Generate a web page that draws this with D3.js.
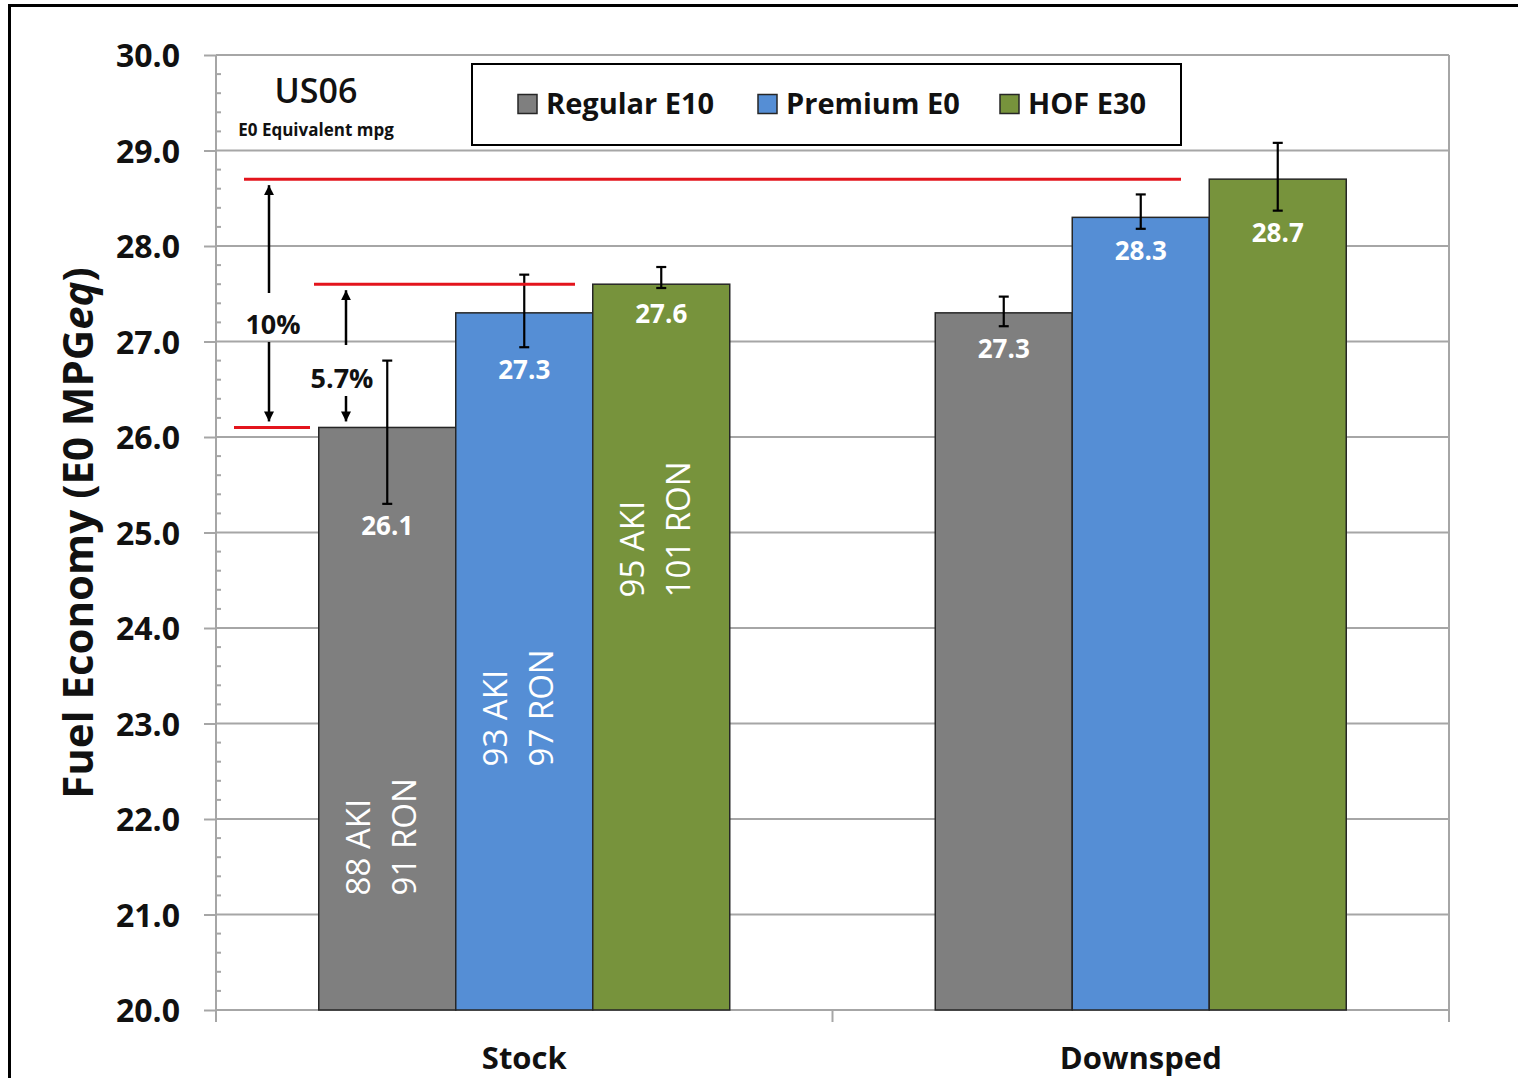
<!DOCTYPE html>
<html>
<head>
<meta charset="utf-8">
<script src="https://cdn.jsdelivr.net/npm/d3@7"></script>
<style>
  html, body { margin: 0; padding: 0; background: #fff; }
  svg { display: block; font-family: "Open Sans", "DejaVu Sans", sans-serif; }
</style>
</head>
<body>
<svg id="chart" width="1518" height="1078"></svg>
<script>
// ---- data ----
const categories = ["Stock", "Downsped"];
const seriesNames = ["Regular E10", "Premium E0", "HOF E30"];
const seriesColors = ["#7f7f7f", "#558ed5", "#77933c"];

// mean fuel economy, E0-equivalent mpg
const regularE10 = [26.1, 27.3];
const premiumE0 = [27.3, 28.3];
const hofE30 = [27.6, 28.7];

// error bar extents
const regularLow = [25.3, 27.16], regularHigh = [26.8, 27.47];
const premiumLow = [26.94, 28.18], premiumHigh = [27.7, 28.54];
const hofLow = [27.56, 28.37], hofHigh = [27.78, 29.08];

// octane ratings written inside the Stock bars
const octaneLabels = [["88 AKI", "91 RON"], ["93 AKI", "97 RON"], ["95 AKI", "101 RON"]];
const octaneLabelStart = [21.2, 22.55, 24.32];

const yTicks = [20, 21, 22, 23, 24, 25, 26, 27, 28, 29, 30];

// improvement annotations relative to Regular E10 on the stock engine
const baseline = 26.1;
const gains = [{ label: "10%", to: 28.7 }, { label: "5.7%", to: 27.6 }];

// ---- layout ----
const W = 1518, H = 1078;
const plot = { left: 216, right: 1449, top: 55, bottom: 1010 };
const gridColor = "#a6a6a6";
const textColor = "#111";

const svg = d3.select("#chart");

const y = d3.scaleLinear().domain([20, 30]).range([plot.bottom, plot.top]);
const x0 = d3.scaleBand().domain(categories).range([plot.left, plot.right]).padding(0);
const x1 = d3.scaleBand().domain(seriesNames).range([0, x0.bandwidth()])
  .paddingInner(0).paddingOuter(0.75);

const values = [regularE10, premiumE0, hofE30];
const lows = [regularLow, premiumLow, hofLow];
const highs = [regularHigh, premiumHigh, hofHigh];

const bars = [];
categories.forEach((c, ci) => {
  seriesNames.forEach((s, si) => {
    bars.push({
      cat: c, ser: s, si, ci,
      value: values[si][ci], low: lows[si][ci], high: highs[si][ci],
      color: seriesColors[si]
    });
  });
});
const barX = d => x0(d.cat) + x1(d.ser);
const barCx = d => barX(d) + x1.bandwidth() / 2;

// outer frame (left and top edges)
svg.append("line").attr("x1", 9.5).attr("x2", 9.5).attr("y1", 4).attr("y2", H)
  .attr("stroke", "#000").attr("stroke-width", 3);
svg.append("line").attr("x1", 8).attr("x2", W).attr("y1", 5.5).attr("y2", 5.5)
  .attr("stroke", "#000").attr("stroke-width", 3);

// ---- gridlines & y axis ----
const yAxis = d3.axisLeft(y).tickValues(yTicks).tickSize(12).tickFormat(d3.format(".1f"));
const yAxisG = svg.append("g").attr("transform", `translate(${plot.left},0)`).call(yAxis);
yAxisG.select(".domain").remove();
yAxisG.selectAll(".tick line").attr("stroke", gridColor).attr("stroke-width", 2);
yAxisG.selectAll(".tick text")
  .attr("x", -36).attr("dy", "0.36em")
  .attr("fill", textColor).style("font-size", "32px").style("font-weight", 700)
  .style("font-family", "'Open Sans', sans-serif");

svg.append("g").selectAll("line").data(yTicks).join("line")
  .attr("x1", plot.left).attr("x2", plot.right)
  .attr("y1", d => y(d)).attr("y2", d => y(d))
  .attr("stroke", gridColor).attr("stroke-width", 2);

// minor ticks every 0.2
const minor = d3.range(20, 30.001, 0.2).filter(v => Math.abs(v - Math.round(v)) > 0.01);
svg.append("g").selectAll("line").data(minor).join("line")
  .attr("x1", plot.left).attr("x2", plot.left + 5)
  .attr("y1", d => y(d)).attr("y2", d => y(d))
  .attr("stroke", gridColor).attr("stroke-width", 2);

// plot border: left axis, right edge
svg.append("line").attr("x1", plot.left).attr("x2", plot.left)
  .attr("y1", plot.top).attr("y2", plot.bottom).attr("stroke", gridColor).attr("stroke-width", 2);
svg.append("line").attr("x1", plot.right).attr("x2", plot.right)
  .attr("y1", plot.top).attr("y2", plot.bottom + 12).attr("stroke", gridColor).attr("stroke-width", 2);

// category axis
const xAxis = d3.axisBottom(x0).tickSize(0).tickPadding(37);
const xAxisG = svg.append("g").attr("transform", `translate(0,${plot.bottom})`).call(xAxis);
xAxisG.select(".domain").remove();
xAxisG.selectAll(".tick text")
  .attr("fill", textColor).style("font-size", "31px").style("font-weight", 700)
  .style("font-family", "'Open Sans', sans-serif");
const catEdges = [plot.left, ...categories.map(c => x0(c) + x0.bandwidth())];
svg.append("g").selectAll("line").data(catEdges).join("line")
  .attr("x1", d => d).attr("x2", d => d)
  .attr("y1", plot.bottom).attr("y2", plot.bottom + 12)
  .attr("stroke", gridColor).attr("stroke-width", 2);

// ---- bars ----
svg.append("g").selectAll("rect").data(bars).join("rect")
  .attr("x", barX).attr("width", x1.bandwidth())
  .attr("y", d => y(d.value)).attr("height", d => y(20) - y(d.value))
  .attr("fill", d => d.color)
  .attr("stroke", "#262626").attr("stroke-width", 1.5);

// octane labels (Stock bars)
const octG = svg.append("g");
seriesNames.forEach((s, si) => {
  const cx = x0(categories[0]) + x1(s) + x1.bandwidth() / 2;
  const yStart = y(octaneLabelStart[si]);
  octaneLabels[si].forEach((line, li) => {
    octG.append("text")
      .attr("transform", `translate(${cx - 29 + li * 46},${yStart}) rotate(-90)`)
      .attr("dy", "0.36em")
      .attr("text-anchor", "start")
      .attr("fill", "#fff")
      .style("font-size", "33px").style("font-weight", 400)
      .text(line);
  });
});

// error bars
const eb = svg.append("g").selectAll("g").data(bars).join("g")
  .attr("stroke", "#000").attr("stroke-width", 2.2);
eb.append("line").attr("x1", barCx).attr("x2", barCx)
  .attr("y1", d => y(d.low)).attr("y2", d => y(d.high));
eb.append("line").attr("x1", d => barCx(d) - 5).attr("x2", d => barCx(d) + 5)
  .attr("y1", d => y(d.low)).attr("y2", d => y(d.low));
eb.append("line").attr("x1", d => barCx(d) - 5).attr("x2", d => barCx(d) + 5)
  .attr("y1", d => y(d.high)).attr("y2", d => y(d.high));

// value labels, placed below the bar top and clear of the error bar
svg.append("g").selectAll("text").data(bars).join("text")
  .attr("x", barCx)
  .attr("y", d => Math.max(y(d.value) + 29, y(d.low) + 22))
  .attr("dy", "0.36em")
  .attr("text-anchor", "middle")
  .attr("fill", "#fff")
  .style("font-size", "26px").style("font-weight", 700)
  .text(d => d3.format(".1f")(d.value));

// ---- improvement annotations ----
const red = "#e3141c";
const ann = svg.append("g");
// reference levels
const refLevels = [
  { v: gains[0].to, from: plot.left + 28, to: 1181 },
  { v: gains[1].to, from: plot.left + 98, to: plot.left + 359 },
  { v: baseline, from: plot.left + 18, to: plot.left + 94 }
];
ann.selectAll("line").data(refLevels).join("line")
  .attr("x1", d => d.from).attr("x2", d => d.to)
  .attr("y1", d => y(d.v)).attr("y2", d => y(d.v))
  .attr("stroke", red).attr("stroke-width", 3);

const defs = svg.append("defs");
defs.append("marker").attr("id", "arrowhead")
  .attr("viewBox", "0 0 10 10").attr("refX", 10).attr("refY", 5)
  .attr("markerWidth", 4).attr("markerHeight", 5).attr("orient", "auto")
  .attr("markerUnits", "strokeWidth")
  .append("path").attr("d", "M0,0 L10,5 L0,10 z").attr("fill", "#000");

const gainLayout = [
  { x: plot.left + 53, textX: plot.left + 57, gapTop: 31, gapBottom: 18 },
  { x: plot.left + 130, textX: plot.left + 126, gapTop: 33, gapBottom: 18 }
];
gains.forEach((g, i) => {
  const L = gainLayout[i];
  const yTop = y(g.to) + 6, yBot = y(baseline) - 6;
  const textY = i === 0 ? 324 : 378;
  ann.append("line").attr("x1", L.x).attr("x2", L.x)
    .attr("y1", textY - L.gapTop).attr("y2", yTop)
    .attr("stroke", "#000").attr("stroke-width", 2.5).attr("marker-end", "url(#arrowhead)");
  ann.append("line").attr("x1", L.x).attr("x2", L.x)
    .attr("y1", textY + L.gapBottom).attr("y2", yBot)
    .attr("stroke", "#000").attr("stroke-width", 2.5).attr("marker-end", "url(#arrowhead)");
  ann.append("text").attr("x", L.textX).attr("y", textY).attr("dy", "0.36em")
    .attr("text-anchor", "middle").attr("fill", textColor)
    .style("font-size", "27px").style("font-weight", 700)
    .text(g.label);
});

// ---- title block ----
svg.append("text").attr("x", 316).attr("y", 103).attr("text-anchor", "middle")
  .attr("fill", textColor).style("font-size", "34px").style("font-weight", 600)
  .text("US06");
svg.append("text").attr("x", 316).attr("y", 136).attr("text-anchor", "middle")
  .attr("fill", textColor).style("font-size", "17px").style("font-weight", 700)
  .text("E0 Equivalent mpg");

// ---- legend ----
const legend = svg.append("g");
legend.append("rect").attr("x", 472).attr("y", 64).attr("width", 709).attr("height", 81)
  .attr("fill", "#fff").attr("stroke", "#000").attr("stroke-width", 2);
const legendX = [518, 758, 1000];
const li = legend.selectAll("g.item").data(seriesNames).join("g").attr("class", "item")
  .attr("transform", (d, i) => `translate(${legendX[i]},104)`);
li.append("rect").attr("x", 0).attr("y", -9.5).attr("width", 19).attr("height", 19)
  .attr("fill", (d, i) => seriesColors[i]).attr("stroke", "#262626").attr("stroke-width", 1.5);
li.append("text").attr("x", 28).attr("dy", "0.36em").attr("fill", textColor)
  .style("font-size", "29px").style("font-weight", 700)
  .text(d => d);

// ---- y axis title ----
const yt = svg.append("text")
  .attr("transform", "translate(78,533) rotate(-90)")
  .attr("text-anchor", "middle").attr("dy", "0.36em")
  .attr("fill", textColor).style("font-size", "42px").style("font-weight", 700);
yt.append("tspan").text("Fuel Economy (E0 MPG");
yt.append("tspan").style("font-style", "italic").text("eq");
yt.append("tspan").text(")");
</script>
</body>
</html>
